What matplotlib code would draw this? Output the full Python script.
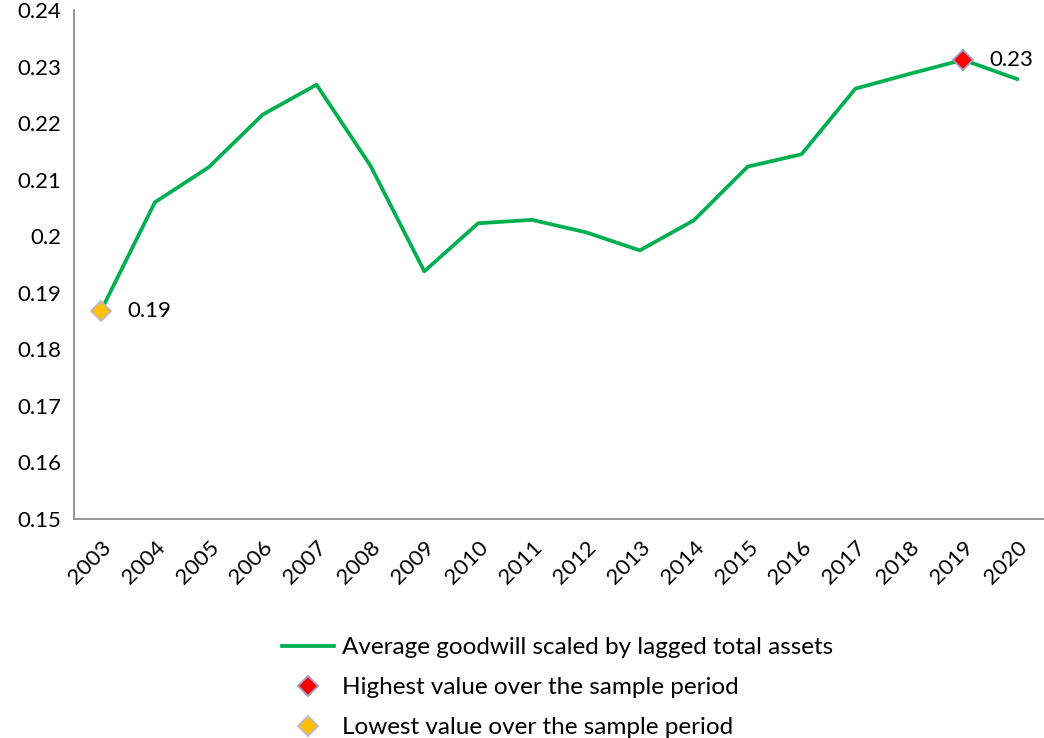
import matplotlib.pyplot as plt
from matplotlib.ticker import FuncFormatter

plt.rcParams['font.family'] = ['Lato', 'DejaVu Sans']

years = [str(y) for y in range(2003, 2021)]
goodwill = [0.1868, 0.2060, 0.2122, 0.2215, 0.2268, 0.2125, 0.1938, 0.2023,
            0.2029, 0.2007, 0.1975, 0.2028, 0.2123, 0.2145, 0.2261, 0.2287,
            0.2312, 0.2278]
hi_idx = goodwill.index(max(goodwill))
lo_idx = goodwill.index(min(goodwill))

fig = plt.figure(figsize=(10.44, 7.38), dpi=100)
ax = fig.add_axes([0.0709, 0.2967, 0.9291, 0.6897])

x = list(range(len(years)))
line, = ax.plot(x, goodwill, color='#00B050', lw=2.7,
                label='Average goodwill scaled by lagged total assets', zorder=2)
hi, = ax.plot([x[hi_idx]], [goodwill[hi_idx]], ls='none', marker='D', ms=10,
              mfc='#FF0000', mec='#9C9CC4', mew=1.3, zorder=3,
              label='Highest value over the sample period')
lo, = ax.plot([x[lo_idx]], [goodwill[lo_idx]], ls='none', marker='D', ms=10,
              mfc='#FFC000', mec='#B8B8D0', mew=1.3, zorder=3,
              label='Lowest value over the sample period')

ax.annotate('%.2f' % goodwill[hi_idx], (x[hi_idx], goodwill[hi_idx]),
            xytext=(19, 0), textcoords='offset points', va='center', fontsize=16)
ax.annotate('%.2f' % goodwill[lo_idx], (x[lo_idx], goodwill[lo_idx]),
            xytext=(19, 0), textcoords='offset points', va='center', fontsize=16)

ax.set_xlim(-0.5, len(years) - 0.5)
ax.set_ylim(0.15, 0.24)
ax.set_yticks([0.15 + 0.01 * i for i in range(10)])
ax.yaxis.set_major_formatter(FuncFormatter(lambda v, p: '%g' % round(v, 2)))
ax.set_xticks(x)
ax.set_xticklabels(years, rotation=45, ha='right', rotation_mode='anchor')
ax.tick_params(axis='both', length=0, labelsize=16)
ax.tick_params(axis='y', pad=9)
ax.tick_params(axis='x', pad=13)

for s in ['top', 'right']:
    ax.spines[s].set_visible(False)
for s in ['left', 'bottom']:
    ax.spines[s].set_color('#8C8C8C')
    ax.spines[s].set_linewidth(1.3)

fig.legend(handles=[line, hi, lo], loc='upper center', bbox_to_anchor=(0.534, 0.166),
           frameon=False, fontsize=17.5, handlelength=2.15, handletextpad=0.33,
           labelspacing=0.78)

fig.savefig('out.png', dpi=100)
